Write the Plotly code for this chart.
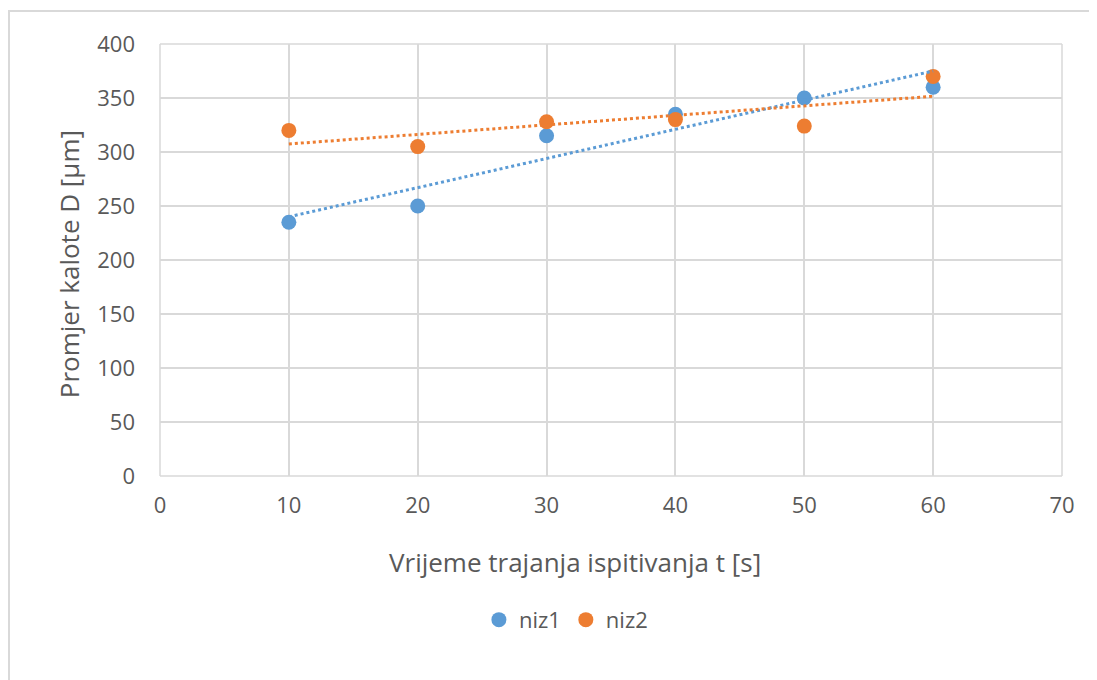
import numpy as np
import plotly.graph_objects as go

x_vals = [10, 20, 30, 40, 50, 60]
niz1 = [235, 250, 315, 335, 350, 360]
niz2 = [320, 305, 328, 330, 324, 370]
series_names = ["niz1", "niz2"]
colors = ["#5B9BD5", "#ED7D31"]
x_title = "Vrijeme trajanja ispitivanja t [s]"
y_title = "Promjer kalote D [µm]"

fig = go.Figure()
for name, ys, c in zip(series_names, [niz1, niz2], colors):
    fig.add_trace(go.Scatter(x=x_vals, y=ys, mode="markers", name=name,
                             marker=dict(color=c, size=15), legendgroup=name))
for name, ys, c in zip(series_names, [niz1, niz2], colors):
    k, b = np.polyfit(x_vals, ys, 1)
    xt = [min(x_vals), max(x_vals)]
    fig.add_trace(go.Scatter(x=xt, y=[k * v + b for v in xt], mode="lines",
                             line=dict(color=c, width=3, dash="dot"),
                             showlegend=False, hoverinfo="skip"))

font_fam = "Open Sans, Noto Sans, sans-serif"
grid = "#D9D9D9"
fig.update_layout(
    width=1097, height=680,
    paper_bgcolor="white", plot_bgcolor="white",
    margin=dict(l=152, r=43, t=36, b=212, autoexpand=False),
    font=dict(family=font_fam, color="#595959", size=22),
    xaxis=dict(range=[0, 70], dtick=10, showgrid=True, gridcolor=grid, gridwidth=1.5,
               zeroline=False, showline=False, ticks="", ticklabelstandoff=14),
    yaxis=dict(range=[0, 400], dtick=50, showgrid=True, gridcolor=grid, gridwidth=1.5,
               zeroline=False, showline=False, ticks="", ticklabelstandoff=24),
    legend=dict(orientation="h", x=0.45, xanchor="center", y=-0.333, yanchor="middle",
                font=dict(size=22), itemwidth=30, tracegroupgap=0),
    showlegend=True,
)
fig.add_annotation(text=x_title, xref="paper", yref="paper", x=0.46, y=-0.199,
                   xanchor="center", yanchor="middle", showarrow=False,
                   font=dict(size=26))
fig.add_annotation(text=y_title, xref="paper", yref="paper", x=-0.101, y=0.49,
                   xanchor="center", yanchor="middle", showarrow=False, textangle=-90,
                   font=dict(size=26))
for (x0, x1, y0, y1) in [(0, 1, 1, 1), (1, 1, 0, 1), (0, 1, 0, 0), (0, 0, 0, 1)]:
    fig.add_shape(type="line", xref="paper", yref="paper", x0=x0, x1=x1, y0=y0, y1=y1,
                  line=dict(color=grid, width=1.5))
# outer chart-area border
fig.add_shape(type="rect", xref="paper", yref="paper",
              x0=-151 / 902, x1=1.2, y0=-0.8, y1=465 / 432,
              line=dict(color=grid, width=2), fillcolor="rgba(0,0,0,0)", layer="below")
fig.write_html("out.html")
